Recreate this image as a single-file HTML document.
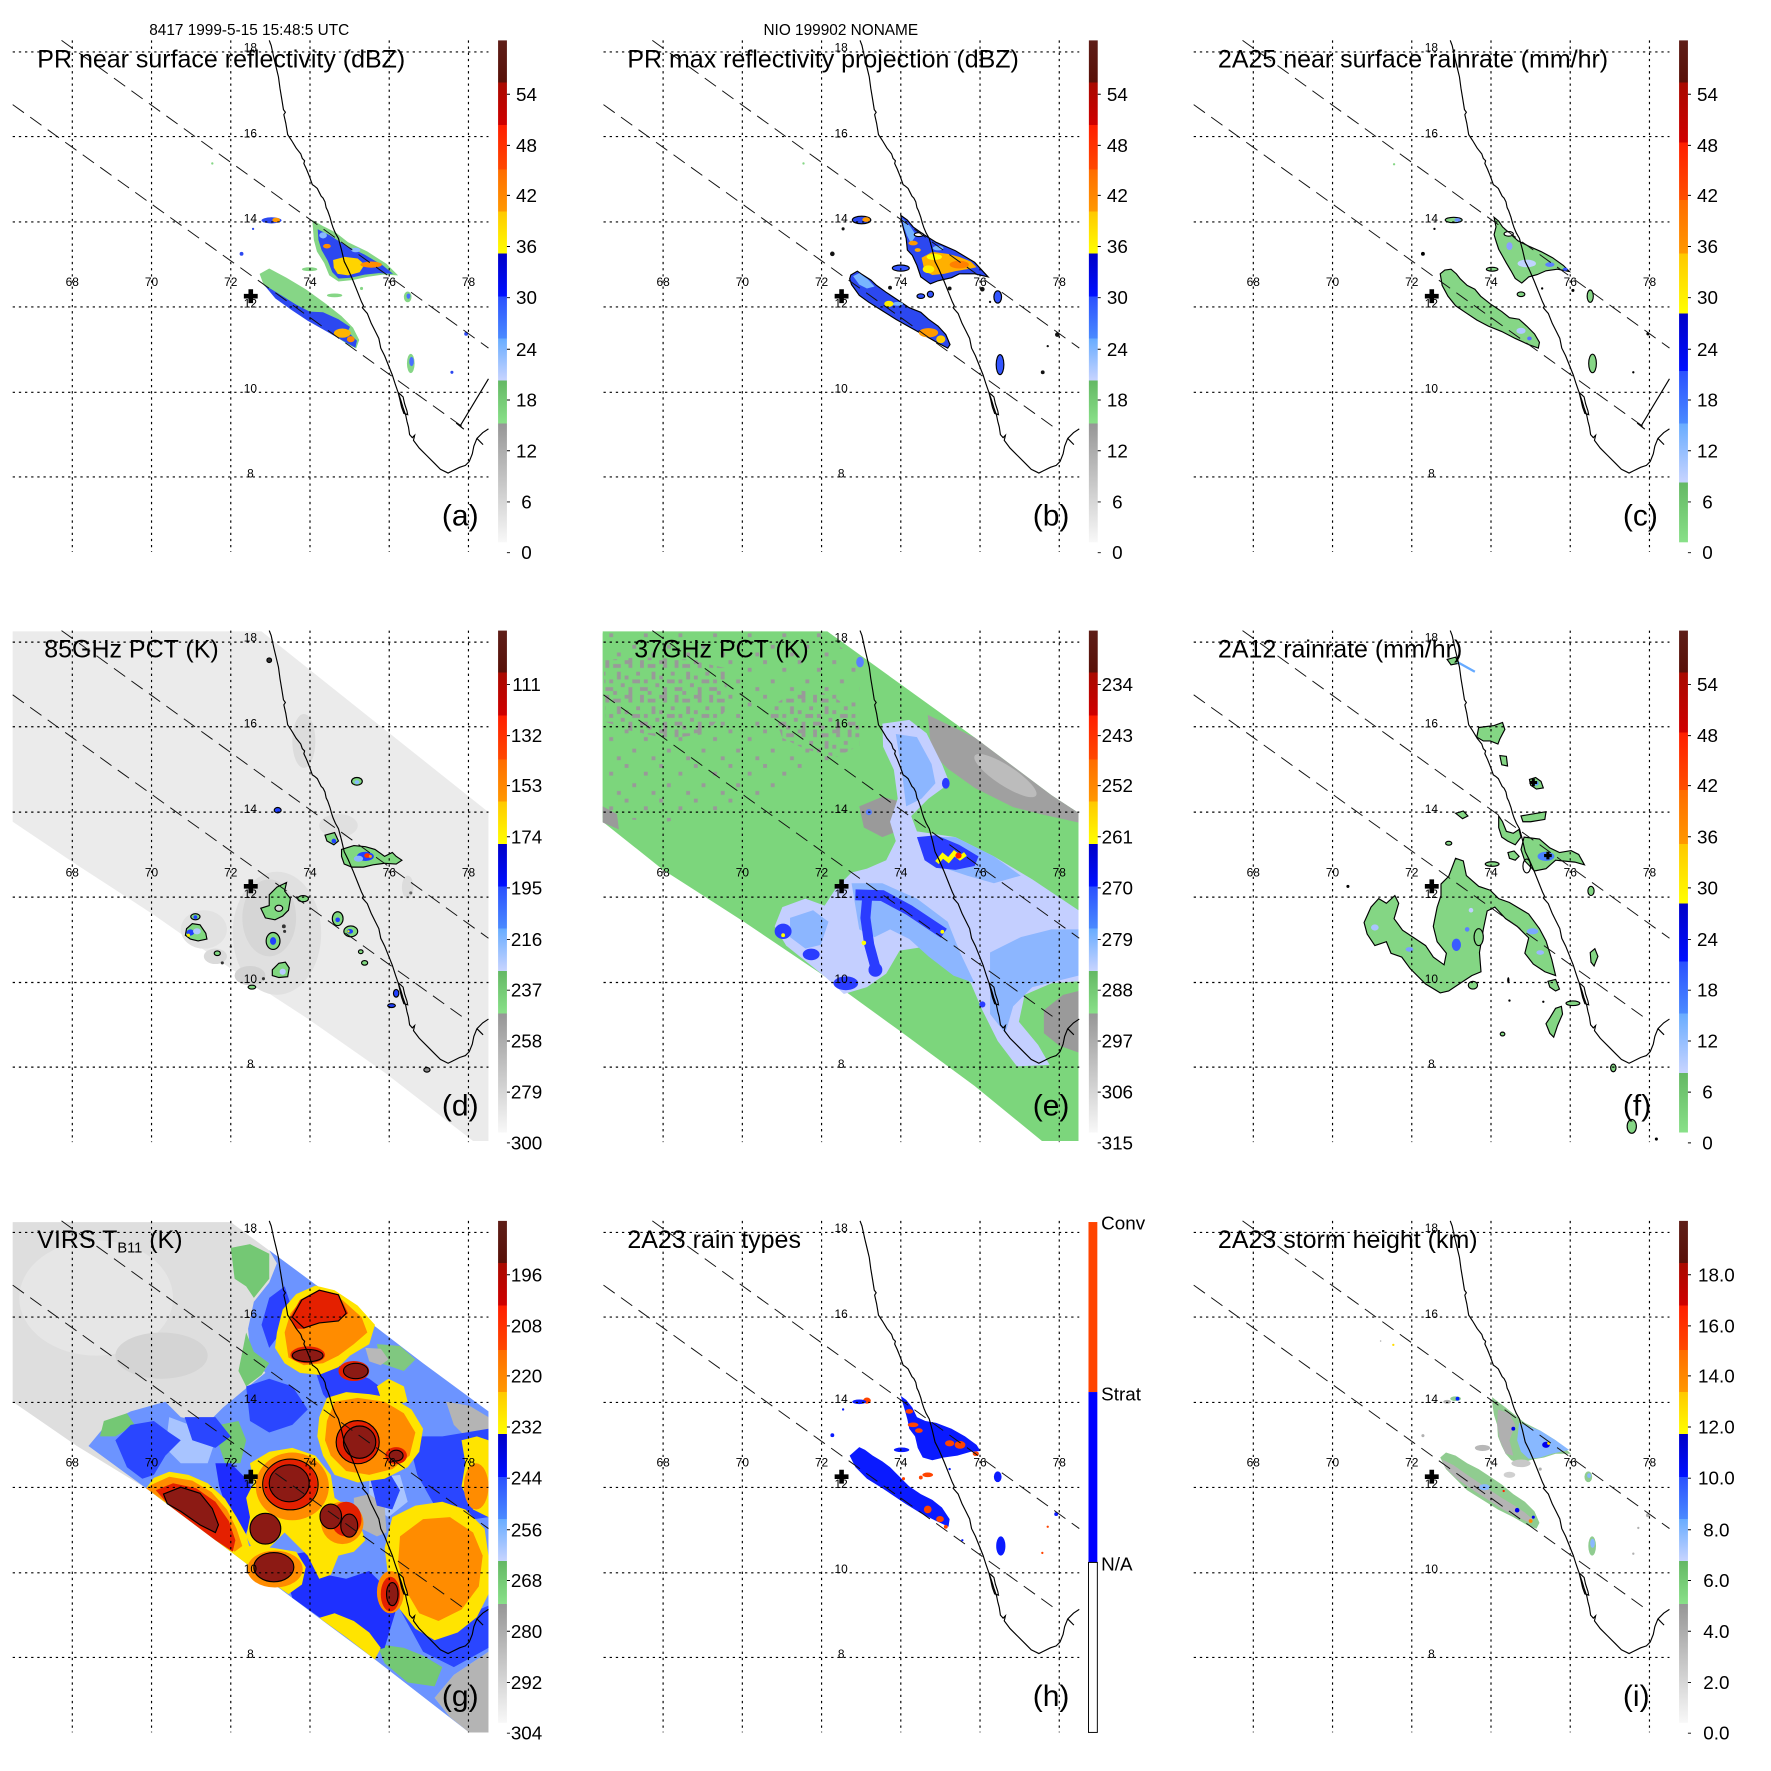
<!DOCTYPE html>
<html><head><meta charset="utf-8">
<style>
html,body{margin:0;padding:0;background:#fff;width:1771px;height:1771px;overflow:hidden}
svg{display:block}
text{font-family:"Liberation Sans",Arial,sans-serif;fill:#000}
.t{font-size:65px}
.h{font-size:40px;text-anchor:middle}
.lo{font-size:31px;text-anchor:middle}
.cb{font-size:49px;text-anchor:middle}
.cbl{font-size:49px}
.pl{font-size:78px}
</style></head><body>
<svg width="1771" height="1771" viewBox="0 0 1771 1771" xmlns="http://www.w3.org/2000/svg">
<defs>
<linearGradient id="gA" gradientUnits="userSpaceOnUse" x1="0" y1="105" x2="0" y2="1410">
<stop offset="0" stop-color="#5e1e18"/><stop offset=".084" stop-color="#581008"/>
<stop offset=".084" stop-color="#a80a00"/><stop offset=".169" stop-color="#d00000"/>
<stop offset=".169" stop-color="#ff1e00"/><stop offset=".257" stop-color="#ff4800"/>
<stop offset=".257" stop-color="#ff6c00"/><stop offset=".341" stop-color="#ff9800"/>
<stop offset=".341" stop-color="#ffc800"/><stop offset=".425" stop-color="#ffff00"/>
<stop offset=".425" stop-color="#0000c8"/><stop offset=".51" stop-color="#0010ff"/>
<stop offset=".51" stop-color="#2a50ff"/><stop offset=".594" stop-color="#4a8aff"/>
<stop offset=".594" stop-color="#68acff"/><stop offset=".678" stop-color="#c8d4ff"/>
<stop offset=".678" stop-color="#64b864"/><stop offset=".763" stop-color="#88e088"/>
<stop offset=".763" stop-color="#969696"/><stop offset="1" stop-color="#f8f8f8"/>
</linearGradient>
<linearGradient id="gC" gradientUnits="userSpaceOnUse" x1="0" y1="105" x2="0" y2="1410">
<stop offset="0" stop-color="#5e1e18"/><stop offset=".084" stop-color="#581008"/>
<stop offset=".084" stop-color="#a80a00"/><stop offset=".203" stop-color="#d00000"/>
<stop offset=".203" stop-color="#ff1e00"/><stop offset=".318" stop-color="#ff5000"/>
<stop offset=".318" stop-color="#ff6c00"/><stop offset=".425" stop-color="#ff9800"/>
<stop offset=".425" stop-color="#ffc800"/><stop offset=".544" stop-color="#ffff00"/>
<stop offset=".544" stop-color="#0000c8"/><stop offset=".659" stop-color="#0010ff"/>
<stop offset=".659" stop-color="#2a50ff"/><stop offset=".763" stop-color="#4a8aff"/>
<stop offset=".763" stop-color="#68acff"/><stop offset=".881" stop-color="#c8d4ff"/>
<stop offset=".881" stop-color="#64b864"/><stop offset="1" stop-color="#88e088"/>
</linearGradient>
<pattern id="mot" width="90" height="90" patternUnits="userSpaceOnUse">
<rect width="90" height="90" fill="#7cd67c"/>
<g fill="#999">
<rect x="0" y="0" width="20" height="10"/><rect x="10" y="10" width="10" height="10"/><rect x="40" y="0" width="10" height="20"/>
<rect x="60" y="10" width="20" height="10"/><rect x="30" y="30" width="10" height="10"/><rect x="70" y="30" width="10" height="20"/>
<rect x="0" y="40" width="10" height="10"/><rect x="20" y="50" width="20" height="10"/><rect x="50" y="50" width="10" height="10"/>
<rect x="80" y="60" width="10" height="10"/><rect x="10" y="70" width="10" height="20"/><rect x="40" y="70" width="20" height="10"/>
<rect x="60" y="80" width="10" height="10"/>
</g>
</pattern>
<pattern id="mot2" width="90" height="90" patternUnits="userSpaceOnUse">
<rect width="90" height="90" fill="#7cd67c"/>
<g fill="#999">
<rect x="0" y="0" width="10" height="10"/><rect x="50" y="20" width="10" height="10"/><rect x="20" y="50" width="10" height="10"/><rect x="70" y="70" width="10" height="10"/>
</g>
</pattern>
<g id="grid" stroke="#000" stroke-width="3" stroke-dasharray="6 10" fill="none">
<path d="M33,135H1270M33,355H1270M33,577H1270M33,798H1270M33,1020H1270M33,1240H1270M188,105V1435M394,105V1435M600,105V1435M806,105V1435M1012,105V1435M1218,105V1435"/>
</g>
<path id="swath" d="M160,105L1270,905M33,272L1210,1115" stroke="#111" stroke-width="2.5" stroke-dasharray="36 20" fill="none"/>
<path id="coast" fill="none" stroke="#000" stroke-width="3" d="M700,105L705,118L712,150L718,175L724,200L728,230L733,260L737,285L742,292L738,298L743,320L748,350L758,365L770,385L782,400L786,412L792,418L790,425L797,440L805,460L812,480L818,484L825,490L830,500L835,510L840,515L845,525L848,540L852,548L858,565L862,580L866,592L872,606L880,620L884,635L888,650L895,680L905,700L918,730L930,760L940,785L945,795L942,800L955,815L965,840L975,860L985,880L990,905L1000,925L1010,950L1020,975L1028,1000L1035,1020L1042,1040L1048,1060L1055,1080L1058,1095L1062,1110L1065,1130L1072,1138L1078,1132L1075,1145L1090,1165L1110,1185L1130,1205L1145,1220L1165,1230L1175,1225L1195,1215L1210,1210L1220,1200L1228,1180L1232,1160L1240,1140L1255,1125L1270,1115M1240,1140L1256,1156M1035,1020L1048,1032L1052,1050L1058,1068L1060,1078L1050,1075L1044,1058L1040,1040Z"/>
<path id="seg" d="M1196,1108L1270,985M1186,1100L1206,1116" stroke="#000" stroke-width="3" fill="none"/>
<path id="cross" d="M646,752h12v12h12v12h-12v12h-12v-12h-12v-12h12z" fill="#000"/>
<path id="ticks" d="M1318,245h8M1318,378h8M1318,508h8M1318,641h8M1318,774h8M1318,908h8M1318,1040h8M1318,1172h8M1318,1305h8M1318,1437h8" stroke="#000" stroke-width="2.5"/>
</defs>

<!-- ============ PANEL A ============ -->
<g transform="translate(0,0) scale(0.384615)">
<g>
<polygon fill="#86d686" points="812,572 840,588 872,604 905,630 955,654 1005,686 1035,716 995,714 955,720 918,728 880,732 856,716 843,684 824,654 816,624 814,598"/>
<polygon fill="#2c48f0" points="826,596 858,612 898,638 948,662 995,690 1022,712 985,710 948,714 912,722 880,724 864,708 852,678 836,650 828,624"/>
<polygon fill="#ffd400" points="866,676 896,668 930,672 948,688 935,708 905,716 878,712 868,696"/>
<ellipse fill="#ff8c00" cx="965" cy="688" rx="28" ry="8"/><ellipse fill="#ff8c00" cx="850" cy="640" rx="10" ry="6"/>
<ellipse fill="#88b8ff" cx="840" cy="612" rx="10" ry="8"/><ellipse fill="#88b8ff" cx="925" cy="650" rx="12" ry="6"/>
<polygon fill="#86d686" points="675,712 700,698 745,722 795,752 845,788 888,822 918,852 934,884 926,906 905,896 868,872 828,848 788,822 748,792 712,764 686,742"/>
<polygon fill="#2c48f0" points="686,740 722,762 770,792 820,818 862,842 900,858 928,886 924,904 888,884 846,860 800,834 758,806 716,776"/>
<polygon fill="#2c48f0" points="800,810 840,812 880,830 910,850 900,870 860,860 820,840"/>
<ellipse fill="#ffb400" cx="890" cy="866" rx="22" ry="12"/><ellipse fill="#ff8800" cx="912" cy="882" rx="10" ry="8"/>
<ellipse fill="#2c48f0" cx="706" cy="573" rx="26" ry="8"/><ellipse fill="#ff9900" cx="718" cy="572" rx="10" ry="6"/>
<ellipse fill="#86d686" cx="1060" cy="772" rx="10" ry="14"/><ellipse fill="#4a70ff" cx="1062" cy="770" rx="5" ry="7"/>
<ellipse fill="#86d686" cx="1068" cy="945" rx="10" ry="25"/><ellipse fill="#4a70ff" cx="1070" cy="940" rx="6" ry="12"/>
<circle fill="#2c48f0" cx="1212" cy="868" r="5"/><circle fill="#2c48f0" cx="1175" cy="968" r="4"/>
<circle fill="#2c48f0" cx="628" cy="660" r="5"/><circle fill="#2c48f0" cx="658" cy="595" r="3"/>
<ellipse fill="#86d686" cx="870" cy="768" rx="20" ry="5"/><ellipse fill="#86d686" cx="805" cy="700" rx="20" ry="5"/>
<circle fill="#86d686" cx="940" cy="750" r="4"/><circle fill="#86d686" cx="552" cy="425" r="3"/>
</g>
<use href="#grid"/><use href="#swath"/><use href="#coast"/><use href="#seg"/><use href="#cross"/>
<rect x="1295" y="105" width="23" height="1305" fill="url(#gA)"/><use href="#ticks"/>
<text class="h" x="648" y="91">8417 1999-5-15 15:48:5 UTC</text>
<text class="t" x="97" y="175">PR near surface reflectivity (dBZ)</text>
<text class="lo" x="188" y="744">68</text><text class="lo" x="394" y="744">70</text><text class="lo" x="600" y="744">72</text><text class="lo" x="806" y="744">74</text><text class="lo" x="1012" y="744">76</text><text class="lo" x="1218" y="744">78</text>
<text class="lo" x="651" y="134">18</text><text class="lo" x="651" y="357">16</text><text class="lo" x="651" y="579">14</text><text class="lo" x="651" y="800">12</text><text class="lo" x="651" y="1021">10</text><text class="lo" x="651" y="1242">8</text>
<text class="cb" x="1369" y="262">54</text><text class="cb" x="1369" y="395">48</text><text class="cb" x="1369" y="525">42</text><text class="cb" x="1369" y="658">36</text><text class="cb" x="1369" y="791">30</text><text class="cb" x="1369" y="925">24</text><text class="cb" x="1369" y="1057">18</text><text class="cb" x="1369" y="1189">12</text><text class="cb" x="1369" y="1322">6</text><text class="cb" x="1369" y="1454">0</text>
<text class="pl" x="1149" y="1366">(a)</text>
</g>

<!-- ============ PANEL B ============ -->
<g transform="translate(590.8,0) scale(0.384615)">
<g transform="translate(-2,0)" stroke="#000" stroke-width="3">
<polygon fill="#2c48f0" points="808,560 825,572 840,590 868,610 900,630 950,652 1000,682 1035,720 1000,712 960,712 940,722 905,730 885,738 860,720 850,690 838,664 825,650 822,620 815,595 810,575"/>
<g stroke="none">
<polygon fill="#70b0ff" points="812,568 832,588 848,612 834,632 824,612 816,590"/>
<polygon fill="#ffb000" points="862,670 890,655 930,660 960,668 990,680 1005,695 980,700 950,705 920,712 890,715 870,705"/>
<ellipse fill="#ffff00" cx="895" cy="668" rx="20" ry="8"/><ellipse fill="#ffee00" cx="880" cy="700" rx="15" ry="10"/>
<ellipse fill="#ff8000" cx="960" cy="688" rx="25" ry="10"/><ellipse fill="#ff9900" cx="840" cy="632" rx="12" ry="6"/><ellipse fill="#ffaa00" cx="852" cy="650" rx="8" ry="5"/>
<ellipse fill="#78b4ff" cx="905" cy="645" rx="14" ry="6"/>
</g>
<ellipse fill="#fff" cx="855" cy="610" rx="12" ry="5"/>
<polygon fill="#2c48f0" points="678,715 695,705 705,712 730,728 745,742 770,760 800,780 830,800 860,812 880,830 905,848 925,870 936,896 930,905 905,892 870,872 830,850 795,830 760,808 725,786 700,768 680,740 675,725"/>
<g stroke="none">
<polygon fill="#78b4ff" points="684,718 700,710 722,726 740,745 720,750 700,740"/>
<ellipse fill="#78b4ff" cx="800" cy="790" rx="14" ry="5"/>
<ellipse fill="#ffee00" cx="777" cy="790" rx="12" ry="8"/>
<ellipse fill="#ff9900" cx="880" cy="865" rx="25" ry="12"/><ellipse fill="#ffcc00" cx="912" cy="882" rx="12" ry="10"/>
</g>
<ellipse fill="#2c48f0" cx="706" cy="572" rx="24" ry="10"/>
<ellipse fill="#ff9900" stroke="none" cx="718" cy="571" rx="10" ry="6"/>
<ellipse fill="#3355ff" cx="808" cy="697" rx="22" ry="8"/>
<ellipse fill="#3355ff" cx="860" cy="770" rx="10" ry="6"/><ellipse fill="#3355ff" cx="885" cy="765" rx="8" ry="8"/>
<ellipse fill="#3355ff" cx="1060" cy="772" rx="10" ry="16"/><ellipse fill="#3355ff" cx="1066" cy="948" rx="10" ry="26"/>
<g stroke="none" fill="#111">
<circle cx="780" cy="748" r="5"/><circle cx="935" cy="750" r="5"/><circle cx="1215" cy="870" r="6"/><circle cx="1190" cy="900" r="3"/><circle cx="1177" cy="968" r="5"/><circle cx="630" cy="660" r="6"/><circle cx="658" cy="595" r="4"/><circle cx="1020" cy="752" r="6"/><circle cx="1040" cy="785" r="3"/>
<circle fill="#86d686" cx="555" cy="425" r="3"/>
</g>
</g>
<use href="#grid"/><use href="#swath"/><use href="#coast"/><use href="#cross"/>
<rect x="1295" y="105" width="23" height="1305" fill="url(#gA)"/><use href="#ticks"/>
<text class="h" x="650" y="91">NIO 199902 NONAME</text>
<text class="t" x="95" y="175">PR max reflectivity projection (dBZ)</text>
<text class="lo" x="188" y="744">68</text><text class="lo" x="394" y="744">70</text><text class="lo" x="600" y="744">72</text><text class="lo" x="806" y="744">74</text><text class="lo" x="1012" y="744">76</text><text class="lo" x="1218" y="744">78</text>
<text class="lo" x="651" y="134">18</text><text class="lo" x="651" y="357">16</text><text class="lo" x="651" y="579">14</text><text class="lo" x="651" y="800">12</text><text class="lo" x="651" y="1021">10</text><text class="lo" x="651" y="1242">8</text>
<text class="cb" x="1369" y="262">54</text><text class="cb" x="1369" y="395">48</text><text class="cb" x="1369" y="525">42</text><text class="cb" x="1369" y="658">36</text><text class="cb" x="1369" y="791">30</text><text class="cb" x="1369" y="925">24</text><text class="cb" x="1369" y="1057">18</text><text class="cb" x="1369" y="1189">12</text><text class="cb" x="1369" y="1322">6</text><text class="cb" x="1369" y="1454">0</text>
<text class="pl" x="1149" y="1366">(b)</text>
</g>

<!-- ============ PANEL C ============ -->
<g transform="translate(1181,0) scale(0.384615)">
<g transform="translate(-26,0)" stroke="#000" stroke-width="3" fill="#86d686">
<polygon points="840,565 852,575 862,590 880,606 902,626 930,640 962,654 992,670 1020,690 1036,706 1005,700 975,704 952,714 930,720 912,736 895,724 884,704 872,684 862,666 852,648 846,630 840,610 845,590"/>
<ellipse fill="#fff" cx="878" cy="608" rx="12" ry="6"/>
<g stroke="none">
<ellipse fill="#c0d4ff" cx="925" cy="685" rx="24" ry="10"/><ellipse fill="#8aa0ff" cx="880" cy="640" rx="8" ry="10"/><ellipse fill="#5a80ff" cx="985" cy="688" rx="12" ry="6"/><ellipse fill="#3355ff" cx="1025" cy="700" rx="6" ry="4"/>
</g>
<polygon points="700,712 712,702 728,700 742,712 752,725 770,742 790,752 805,770 830,790 860,810 880,826 905,830 925,848 945,868 958,890 955,905 930,896 895,880 860,862 825,848 795,832 765,812 740,795 720,770 705,742"/>
<g stroke="none"><ellipse fill="#b0c8ff" cx="910" cy="860" rx="12" ry="8"/><ellipse fill="#5a70ff" cx="932" cy="880" rx="6" ry="5"/></g>
<ellipse cx="735" cy="572" rx="22" ry="7"/><ellipse fill="#6a90ff" stroke="none" cx="745" cy="572" rx="8" ry="5"/>
<ellipse cx="835" cy="700" rx="15" ry="5"/><ellipse cx="1090" cy="770" rx="8" ry="16"/><ellipse cx="1096" cy="945" rx="10" ry="24"/><ellipse cx="910" cy="765" rx="10" ry="6"/>
<g stroke="none" fill="#000"><circle cx="655" cy="660" r="5"/><circle cx="1045" cy="755" r="4"/><circle cx="965" cy="750" r="3"/><circle cx="1240" cy="868" r="4"/><circle cx="1202" cy="968" r="3"/><circle cx="685" cy="595" r="3"/><circle fill="#86d686" cx="580" cy="427" r="3"/></g>
</g>
<use href="#grid"/><use href="#swath"/><use href="#coast"/><use href="#seg"/><use href="#cross"/>
<rect x="1295" y="105" width="23" height="1305" fill="url(#gC)"/><use href="#ticks"/>
<text class="t" x="96" y="175">2A25 near surface rainrate (mm/hr)</text>
<text class="lo" x="188" y="744">68</text><text class="lo" x="394" y="744">70</text><text class="lo" x="600" y="744">72</text><text class="lo" x="806" y="744">74</text><text class="lo" x="1012" y="744">76</text><text class="lo" x="1218" y="744">78</text>
<text class="lo" x="651" y="134">18</text><text class="lo" x="651" y="357">16</text><text class="lo" x="651" y="579">14</text><text class="lo" x="651" y="800">12</text><text class="lo" x="651" y="1021">10</text><text class="lo" x="651" y="1242">8</text>
<text class="cb" x="1369" y="262">54</text><text class="cb" x="1369" y="395">48</text><text class="cb" x="1369" y="525">42</text><text class="cb" x="1369" y="658">36</text><text class="cb" x="1369" y="791">30</text><text class="cb" x="1369" y="925">24</text><text class="cb" x="1369" y="1057">18</text><text class="cb" x="1369" y="1189">12</text><text class="cb" x="1369" y="1322">6</text><text class="cb" x="1369" y="1454">0</text>
<text class="pl" x="1149" y="1366">(c)</text>
</g>

<!-- ============ PANEL D ============ -->
<g transform="translate(0,590.2) scale(0.384615)">
<g transform="translate(0,2)">
<polygon fill="#ebebeb" points="33,105 680,105 1270,575 1270,1430 1230,1430 1000,1252 800,1112 600,982 400,842 200,712 33,600"/>
<ellipse fill="#e0e0e0" cx="720" cy="890" rx="115" ry="160"/>
<ellipse fill="#d6d6d6" cx="700" cy="850" rx="70" ry="100"/>
<ellipse fill="#dcdcdc" cx="790" cy="390" rx="30" ry="70"/>
<ellipse fill="#e0e0e0" cx="880" cy="610" rx="50" ry="30"/>
<ellipse fill="#d2d2d2" cx="650" cy="1000" rx="40" ry="25"/>
<ellipse fill="#dcdcdc" cx="1060" cy="770" rx="15" ry="30"/>
<ellipse fill="#dadada" cx="560" cy="950" rx="30" ry="20"/>
<ellipse fill="#e2e2e2" cx="530" cy="880" rx="60" ry="50"/>
<g stroke="#000" stroke-width="3" fill="#80d880">
<circle fill="#333" cx="700" cy="180" r="6"/>
<ellipse cx="928" cy="495" rx="14" ry="10"/>
<ellipse fill="#2040ff" cx="722" cy="570" rx="9" ry="7"/>
<polygon points="845,635 870,628 880,650 868,660 850,650"/>
<polygon points="888,672 920,662 950,665 975,672 1000,690 1020,680 1030,690 1045,700 1030,710 1000,708 970,712 945,718 915,718 895,710 888,690"/>
<polygon points="700,790 720,770 745,758 740,780 755,800 750,830 735,845 715,855 690,850 678,825 700,818"/>
<ellipse fill="#d6d6d6" cx="725" cy="825" rx="10" ry="8"/>
<ellipse cx="788" cy="800" rx="14" ry="8"/>
<polygon points="485,878 500,865 520,868 535,890 538,905 515,910 495,905 482,895"/>
<ellipse cx="508" cy="847" rx="12" ry="8"/>
<ellipse cx="710" cy="910" rx="18" ry="22"/>
<ellipse cx="878" cy="852" rx="14" ry="18"/>
<ellipse cx="912" cy="885" rx="18" ry="14"/>
<polygon points="708,985 725,968 742,965 752,980 748,1003 725,1005 708,1000"/>
<ellipse cx="565" cy="942" rx="8" ry="6"/>
<ellipse cx="938" cy="938" rx="6" ry="5"/><ellipse cx="948" cy="967" rx="8" ry="6"/>
<ellipse fill="#2040ff" cx="1030" cy="1046" rx="7" ry="10"/>
<ellipse fill="#2040ff" cx="1018" cy="1078" rx="10" ry="5"/>
<ellipse fill="#888" cx="1110" cy="1245" rx="8" ry="6"/>
<ellipse cx="655" cy="1030" rx="10" ry="5"/>
</g>
<g>
<ellipse fill="#88bbff" cx="928" cy="497" rx="6" ry="5"/>
<circle fill="#2040ff" cx="868" cy="650" r="6"/>
<ellipse fill="#2040ff" cx="950" cy="690" rx="22" ry="12"/><ellipse fill="#8ab4ff" cx="932" cy="696" rx="12" ry="8"/>
<ellipse fill="#ff3000" cx="955" cy="688" rx="8" ry="6"/><circle fill="#ff9900" cx="963" cy="690" r="4"/>
<ellipse fill="#2040ff" cx="495" cy="888" rx="10" ry="8"/><ellipse fill="#b0c8ff" cx="512" cy="885" rx="10" ry="8"/><circle fill="#ffee00" cx="490" cy="895" r="4"/>
<circle fill="#2040ff" cx="508" cy="848" r="5"/>
<ellipse fill="#2040ff" cx="710" cy="910" rx="8" ry="10"/>
<circle fill="#2040ff" cx="878" cy="855" r="6"/>
<ellipse fill="#2040ff" cx="910" cy="885" rx="8" ry="6"/><circle fill="#ffee00" cx="906" cy="885" r="3"/>
<circle fill="#b8ccff" cx="735" cy="990" r="8"/>
<circle fill="#333" cx="738" cy="872" r="5"/><circle fill="#333" cx="740" cy="885" r="4"/>
<circle fill="#333" cx="578" cy="967" r="4"/><circle fill="#333" cx="600" cy="925" r="3"/><circle fill="#333" cx="685" cy="1008" r="4"/><circle fill="#666" cx="1068" cy="785" r="4"/>
</g>
</g>
<use href="#grid"/><use href="#swath"/><use href="#coast"/><use href="#cross"/>
<rect x="1295" y="105" width="23" height="1305" fill="url(#gA)"/><use href="#ticks"/>
<text class="t" x="115" y="175">85GHz PCT (K)</text>
<text class="lo" x="188" y="744">68</text><text class="lo" x="394" y="744">70</text><text class="lo" x="600" y="744">72</text><text class="lo" x="806" y="744">74</text><text class="lo" x="1012" y="744">76</text><text class="lo" x="1218" y="744">78</text>
<text class="lo" x="651" y="134">18</text><text class="lo" x="651" y="357">16</text><text class="lo" x="651" y="579">14</text><text class="lo" x="651" y="800">12</text><text class="lo" x="651" y="1021">10</text><text class="lo" x="651" y="1242">8</text>
<text class="cb" x="1369" y="262">111</text><text class="cb" x="1369" y="395">132</text><text class="cb" x="1369" y="525">153</text><text class="cb" x="1369" y="658">174</text><text class="cb" x="1369" y="791">195</text><text class="cb" x="1369" y="925">216</text><text class="cb" x="1369" y="1057">237</text><text class="cb" x="1369" y="1189">258</text><text class="cb" x="1369" y="1322">279</text><text class="cb" x="1369" y="1454">300</text>
<text class="pl" x="1149" y="1366">(d)</text>
</g>

<!-- ============ PANEL E ============ -->
<g transform="translate(590.8,590.2) scale(0.384615)">
<g transform="translate(-2,2)">
<polygon fill="#7cd67c" points="33,105 617,105 800,237 1000,381 1200,531 1270,577 1270,1430 1175,1430 1000,1287 800,1140 600,995 400,860 190,725 33,600"/>
<polygon fill="url(#mot2)" points="33,110 600,110 700,180 700,420 600,460 400,560 200,600 33,590"/>
<polygon fill="url(#mot)" points="36,180 130,172 250,178 350,200 362,300 300,372 200,384 100,362 40,340"/>
<polygon fill="url(#mot)" points="470,300 540,258 620,268 700,318 700,402 640,432 560,412 500,382"/>
<polygon fill="#9a9a9a" points="700,560 760,535 822,552 812,620 760,640 712,615"/>
<polygon fill="#a0a0a0" points="878,322 1000,381 1200,531 1270,577 1270,602 1180,582 1100,562 1000,512 930,462 888,420"/>
<ellipse fill="#bcbcbc" cx="1080" cy="480" rx="95" ry="26" transform="rotate(33 1080 480)"/>
<polygon fill="#9a9a9a" points="1180,1090 1230,1050 1270,1040 1270,1200 1220,1182 1180,1150"/>
<polygon fill="#9a9a9a" points="33,560 70,580 75,620 33,602"/>
<polygon fill="#c4cfff" points="760,345 830,335 875,370 915,450 935,500 880,540 835,585 850,625 950,640 1050,690 1150,750 1270,830 1270,1015 1200,1020 1130,1050 1115,1120 1165,1180 1195,1232 1110,1236 1060,1170 1020,1090 990,1020 945,965 870,925 805,935 770,995 720,1030 660,1048 610,1002 560,962 510,922 480,872 500,822 560,800 610,818 640,772 680,732 720,722 770,700 795,650 780,600 800,540 790,465 762,405"/>
<polygon fill="#8cb6ff" points="795,372 850,380 888,450 898,500 862,540 822,560 812,480"/>
<polygon fill="#8cb6ff" points="680,760 760,760 850,800 930,860 962,940 1000,1020 945,1000 880,950 830,905 780,880 740,900 700,880"/>
<polygon fill="#8cb6ff" points="1040,940 1120,900 1200,880 1270,880 1270,1000 1150,1030 1100,1080 1080,1150 1040,1100"/>
<polygon fill="#8cb6ff" points="880,640 950,640 1050,690 1120,740 1050,760 980,740 920,720"/>
<polygon fill="#8cb6ff" points="520,850 580,830 620,860 600,920 560,930 520,900"/>
<polygon fill="#2a3cff" points="850,640 900,635 960,660 1010,690 1000,715 950,725 900,720 870,700"/>
<polyline fill="none" stroke="#2a3cff" stroke-width="28" points="690,790 760,792 830,830 890,870 920,890"/>
<polyline fill="none" stroke="#2a3cff" stroke-width="26" points="722,782 716,850 726,920 745,990"/>
<ellipse fill="#2a3cff" cx="502" cy="885" rx="22" ry="20"/>
<ellipse fill="#2a3cff" cx="575" cy="945" rx="22" ry="15"/>
<ellipse fill="#2a3cff" cx="665" cy="1020" rx="32" ry="18"/>
<ellipse fill="#2a3cff" cx="742" cy="985" rx="18" ry="18"/>
<ellipse fill="#2a3cff" cx="925" cy="500" rx="10" ry="14"/>
<ellipse fill="#2a3cff" cx="1020" cy="1075" rx="8" ry="8"/>
<ellipse fill="#5a80ff" cx="702" cy="185" rx="10" ry="14"/>
<circle fill="#5a80ff" cx="725" cy="575" r="8"/>
<polyline fill="none" stroke="#ffff00" stroke-width="12" points="902,706 917,688 932,700 947,682 962,694 976,684"/>
<circle fill="#ff2000" cx="958" cy="688" r="8"/>
<circle fill="#ffff00" cx="502" cy="895" r="5"/><circle fill="#ffff00" cx="712" cy="915" r="6"/><circle fill="#ffff00" cx="916" cy="886" r="5"/>
</g>
<use href="#grid"/><use href="#swath"/><use href="#coast"/><use href="#cross"/>
<rect x="1295" y="105" width="23" height="1305" fill="url(#gA)"/><use href="#ticks"/>
<text class="t" x="113" y="175">37GHz PCT (K)</text>
<text class="lo" x="188" y="744">68</text><text class="lo" x="394" y="744">70</text><text class="lo" x="600" y="744">72</text><text class="lo" x="806" y="744">74</text><text class="lo" x="1012" y="744">76</text><text class="lo" x="1218" y="744">78</text>
<text class="lo" x="651" y="134">18</text><text class="lo" x="651" y="357">16</text><text class="lo" x="651" y="579">14</text><text class="lo" x="651" y="800">12</text><text class="lo" x="651" y="1021">10</text><text class="lo" x="651" y="1242">8</text>
<text class="cb" x="1369" y="262">234</text><text class="cb" x="1369" y="395">243</text><text class="cb" x="1369" y="525">252</text><text class="cb" x="1369" y="658">261</text><text class="cb" x="1369" y="791">270</text><text class="cb" x="1369" y="925">279</text><text class="cb" x="1369" y="1057">288</text><text class="cb" x="1369" y="1189">297</text><text class="cb" x="1369" y="1322">306</text><text class="cb" x="1369" y="1454">315</text>
<text class="pl" x="1149" y="1366">(e)</text>
</g>

<!-- ============ PANEL F ============ -->
<g transform="translate(1181,590.2) scale(0.384615)">
<g transform="translate(-26,2)" stroke="#000" stroke-width="3" fill="#84d684">
<polygon points="740,695 760,702 768,740 800,768 830,778 852,800 880,810 930,840 958,878 975,910 990,958 1000,1000 972,990 942,970 920,942 930,902 900,872 870,852 842,822 822,832 812,880 802,940 806,990 782,1000 752,1020 722,1040 700,1045 662,1022 642,1002 622,982 600,952 572,942 560,912 530,922 510,892 502,862 520,822 540,800 560,812 582,792 592,812 580,852 602,882 632,902 662,922 682,952 710,972 716,942 692,912 682,872 692,822 702,792 702,762 722,742"/>
<ellipse cx="800" cy="900" rx="12" ry="22"/>
<g stroke="none">
<ellipse fill="#3a5cff" cx="742" cy="920" rx="12" ry="16"/><circle fill="#5a80ff" cx="770" cy="880" r="6"/><ellipse fill="#7aa8ff" cx="940" cy="885" rx="15" ry="8"/><ellipse fill="#9ab8ff" cx="960" cy="940" rx="10" ry="6"/><ellipse fill="#aac4ff" cx="530" cy="875" rx="10" ry="8"/><ellipse fill="#7aa0ff" cx="620" cy="932" rx="10" ry="6"/><circle fill="#c0d0ff" cx="780" cy="830" r="6"/>
</g>
<polygon points="918,640 958,645 985,668 1010,680 1040,675 1060,685 1075,712 1050,705 1000,700 975,722 945,728 920,702 910,672"/>
<ellipse fill="#4a80ff" stroke="none" cx="975" cy="690" rx="22" ry="12"/>
<polygon points="852,585 862,600 872,625 890,630 905,620 910,640 895,660 875,650 860,640 852,615"/>
<polygon points="876,680 892,676 905,690 895,700 880,695"/>
<polygon points="910,585 950,578 975,574 972,594 935,600 915,600"/>
<polygon points="800,355 840,350 862,342 868,360 855,385 850,398 830,390 812,390 795,380"/>
<polygon points="855,428 872,430 875,455 860,452"/>
<polygon points="932,490 948,485 962,495 968,512 950,515 935,505"/>
<circle fill="#5aa0ff" stroke="none" cx="950" cy="500" r="6"/>
<polygon points="740,578 760,572 772,585 758,592"/>
<ellipse cx="722" cy="656" rx="8" ry="5"/><ellipse cx="835" cy="710" rx="18" ry="6"/><ellipse cx="1092" cy="780" rx="8" ry="12"/>
<polygon points="1090,940 1102,930 1110,950 1100,975 1092,965"/>
<polygon points="980,1015 1000,1010 1010,1035 1000,1040 985,1030"/>
<ellipse cx="1045" cy="1072" rx="18" ry="6"/>
<polygon points="1000,1085 1015,1080 1018,1100 1005,1130 995,1160 985,1150 975,1125 985,1110"/>
<ellipse cx="862" cy="1152" rx="6" ry="5"/><ellipse cx="1150" cy="1240" rx="7" ry="10"/><ellipse cx="1198" cy="1392" rx="12" ry="18"/><ellipse cx="785" cy="1025" rx="12" ry="10"/>
<ellipse fill="none" cx="925" cy="715" rx="10" ry="18"/>
<polygon points="718,178 740,172 748,188 728,192"/>
<line x1="745" y1="185" x2="790" y2="210" stroke="#66aaff" stroke-width="6"/>
<g stroke="none" fill="#000"><circle cx="1262" cy="1425" r="4"/><circle cx="460" cy="768" r="4"/><circle cx="880" cy="1065" r="3"/><circle cx="968" cy="1068" r="3"/><ellipse cx="877" cy="1012" rx="3" ry="8"/></g>
<path stroke="none" fill="#000" d="M976,678h8v6h6v8h-6v6h-8v-6h-6v-8h6z M938,488h8v6h6v8h-6v6h-8v-6h-6v-8h6z"/>
</g>
<use href="#grid"/><use href="#swath"/><use href="#coast"/><use href="#cross"/>
<rect x="1295" y="105" width="23" height="1305" fill="url(#gC)"/><use href="#ticks"/>
<text class="t" x="96" y="175">2A12 rainrate (mm/hr)</text>
<text class="lo" x="188" y="744">68</text><text class="lo" x="394" y="744">70</text><text class="lo" x="600" y="744">72</text><text class="lo" x="806" y="744">74</text><text class="lo" x="1012" y="744">76</text><text class="lo" x="1218" y="744">78</text>
<text class="lo" x="651" y="134">18</text><text class="lo" x="651" y="357">16</text><text class="lo" x="651" y="579">14</text><text class="lo" x="651" y="800">12</text><text class="lo" x="651" y="1021">10</text><text class="lo" x="651" y="1242">8</text>
<text class="cb" x="1369" y="262">54</text><text class="cb" x="1369" y="395">48</text><text class="cb" x="1369" y="525">42</text><text class="cb" x="1369" y="658">36</text><text class="cb" x="1369" y="791">30</text><text class="cb" x="1369" y="925">24</text><text class="cb" x="1369" y="1057">18</text><text class="cb" x="1369" y="1189">12</text><text class="cb" x="1369" y="1322">6</text><text class="cb" x="1369" y="1454">0</text>
<text class="pl" x="1149" y="1366">(f)</text>
</g>

<!-- ============ PANEL G ============ -->
<g transform="translate(0,1180.5) scale(0.384615)">
<g transform="translate(0,-24.7)">
<polygon fill="#dedede" points="33,133 600,133 820,295 970,400 1100,500 1270,625 1270,1460 1220,1460 975,1270 800,1140 600,990 380,825 200,715 33,600"/>
<ellipse fill="#e6e6e6" cx="250" cy="330" rx="200" ry="150"/>
<ellipse fill="#d4d4d4" cx="420" cy="480" rx="120" ry="60"/>
<polygon fill="#b4b4b4" points="1270,1250 1180,1310 1130,1370 1170,1420 1220,1460 1270,1460"/>
<polygon fill="#6c94ff" points="230,715 280,655 340,625 430,600 470,640 540,655 580,615 640,565 690,525 650,470 645,410 660,340 700,290 720,240 700,206 820,295 970,400 1100,500 1270,625 1270,1250 1180,1310 1130,1370 1170,1420 1220,1460 975,1270 800,1140 600,990 380,825"/>
<polygon fill="#a8c4ff" points="440,640 520,670 560,700 540,760 470,760 430,720"/>
<polygon fill="#a8c4ff" points="960,800 1040,790 1060,860 1010,900 960,870"/>
<polygon fill="#a8c4ff" points="880,1080 940,1070 980,1120 940,1160 890,1140"/>
<polygon fill="#74c874" points="600,200 650,190 700,215 700,280 660,330 640,300 610,280"/>
<polygon fill="#74c874" points="640,420 660,470 700,500 680,530 640,560 620,520 630,470"/>
<polygon fill="#74c874" points="570,660 620,650 640,700 625,760 585,760 565,700"/>
<polygon fill="#80c880" points="980,450 1040,455 1080,490 1050,520 990,500"/>
<polygon fill="#74c874" points="980,1230 1050,1240 1100,1260 1150,1290 1130,1340 1060,1330 1000,1280"/>
<polygon fill="#74c874" points="270,650 330,630 350,660 300,690 260,690"/>
<polygon fill="#b8b8b8" points="950,460 990,462 1010,490 990,505 960,495"/>
<polygon fill="#b4b4b4" points="920,850 960,840 1000,870 1005,940 980,950 940,930 920,890"/>
<polygon fill="#b4b4b4" points="1160,600 1220,610 1270,640 1270,700 1220,700 1180,660"/>
<polygon fill="#2a46ff" points="300,700 340,660 400,650 440,680 470,700 430,740 400,790 370,800 330,770"/>
<polygon fill="#1e2cff" points="560,760 600,760 640,800 670,850 660,900 630,960 600,970 580,930 590,880 570,820"/>
<polygon fill="#1e30ff" points="740,1000 800,990 850,1050 900,1060 960,1040 1000,1080 1030,1140 1000,1240 960,1250 900,1200 830,1160 760,1110 745,1060"/>
<polygon fill="#2a40ff" points="820,520 880,505 960,540 1000,570 985,620 930,640 870,620 840,580"/>
<polygon fill="#2a46ff" points="1060,690 1150,690 1270,670 1270,900 1200,910 1130,870 1085,790"/>
<polygon fill="#2a46ff" points="1040,1140 1120,1180 1200,1160 1270,1130 1270,1240 1180,1290 1100,1250"/>
<polygon fill="#2a46ff" points="640,560 700,540 760,560 800,620 760,660 700,680 650,650"/>
<polygon fill="#2a40ff" points="700,330 740,300 760,360 730,420 700,460 680,400"/>
<polygon fill="#2a46ff" points="480,640 560,640 600,690 560,720 500,700"/>
<polygon fill="#2a46ff" points="960,790 1010,780 1040,830 1020,880 980,870"/>
<polygon fill="#ffe400" points="380,825 400,798 440,782 490,790 540,812 585,852 615,900 640,945 650,985 615,995 600,990"/>
<polygon fill="#ffe400" points="650,760 700,730 760,720 820,740 860,790 870,850 900,870 930,900 950,960 920,990 880,1000 860,1050 830,1060 800,1000 780,980 760,960 740,940 700,980 660,990 640,950 650,900 640,850 660,810"/>
<polygon fill="#ffe400" points="600,990 650,975 710,980 770,990 795,1030 785,1075 750,1100 700,1065 650,1028"/>
<polygon fill="#ffe400" points="830,1162 870,1150 920,1170 960,1200 990,1240 975,1270 900,1212"/>
<polygon fill="#ffe400" points="1020,900 1080,870 1150,860 1210,880 1260,930 1270,1000 1270,1100 1240,1160 1190,1200 1130,1220 1080,1190 1040,1140 1010,1060 1000,980"/>
<polygon fill="#ffe400" points="830,640 850,590 900,575 960,580 1020,590 1070,620 1100,670 1090,730 1060,770 1000,800 930,810 870,790 840,740 825,690"/>
<polygon fill="#ffe400" points="720,420 735,360 770,320 820,298 870,310 930,350 975,400 960,450 910,480 880,510 830,530 780,525 740,500 715,460"/>
<polygon fill="#ffe400" points="980,560 1010,540 1050,560 1060,600 1020,610 990,590"/>
<polygon fill="#ffe400" points="1200,700 1240,690 1270,700 1270,900 1230,880 1200,820 1210,760"/>
<polygon fill="#ff8c00" points="740,420 755,370 790,330 840,310 890,335 940,380 955,420 920,450 880,480 840,500 790,505 750,485"/>
<polygon fill="#ff8c00" points="850,650 870,600 930,590 1000,600 1050,630 1080,680 1065,740 1020,775 960,790 900,780 860,740 845,700"/>
<polygon fill="#ff8c00" points="1040,950 1100,905 1170,900 1230,940 1255,1000 1245,1080 1200,1140 1140,1170 1090,1150 1055,1090 1035,1020"/>
<ellipse fill="#ff8c00" cx="760" cy="820" rx="95" ry="88"/>
<ellipse fill="#ff8c00" cx="715" cy="1035" rx="72" ry="48"/>
<polygon fill="#ff8c00" points="395,815 440,795 500,805 550,835 590,880 615,930 630,975 610,990 380,825"/>
<ellipse fill="#ff8c00" cx="890" cy="915" rx="55" ry="55"/>
<ellipse fill="#ff8c00" cx="1015" cy="1095" rx="35" ry="55"/>
<ellipse fill="#ff8c00" cx="1238" cy="820" rx="32" ry="60"/>
<g fill="#e42000">
<polygon points="755,380 780,335 830,308 880,320 905,370 880,390 830,395 790,410 770,410"/>
<ellipse cx="800" cy="478" rx="45" ry="22"/>
<polygon points="405,830 450,812 510,825 560,860 595,910 612,960 605,990 560,960 500,915 440,870"/>
<ellipse cx="755" cy="815" rx="70" ry="65"/>
<ellipse cx="1015" cy="1100" rx="25" ry="45"/>
<ellipse cx="900" cy="905" rx="40" ry="45"/>
<ellipse cx="930" cy="705" rx="55" ry="55"/>
<ellipse cx="1030" cy="740" rx="28" ry="22"/>
<ellipse cx="920" cy="520" rx="40" ry="26"/>
</g>
<g fill="#8c1a14" stroke="#000" stroke-width="3">
<polygon points="425,840 470,822 520,838 552,878 568,920 560,940 520,920 470,885 435,865"/>
<circle cx="690" cy="930" r="40"/>
<ellipse cx="712" cy="1030" rx="52" ry="38"/>
<ellipse cx="752" cy="812" rx="52" ry="48"/>
<ellipse cx="860" cy="898" rx="28" ry="32"/>
<ellipse cx="908" cy="922" rx="22" ry="30"/>
<ellipse cx="925" cy="520" rx="32" ry="20"/>
<ellipse cx="935" cy="705" rx="42" ry="42"/>
<ellipse cx="1030" cy="740" rx="18" ry="14"/>
<ellipse cx="800" cy="480" rx="40" ry="16"/>
<ellipse cx="1020" cy="1100" rx="15" ry="30"/>
</g>
<g fill="none" stroke="#000" stroke-width="3">
<polygon points="760,380 785,335 830,310 880,322 900,370 880,390 830,395 790,408"/>
<ellipse cx="755" cy="815" rx="72" ry="66"/>
<ellipse cx="930" cy="705" rx="56" ry="56"/>
</g>
</g>
<use href="#grid"/><use href="#swath"/><use href="#coast"/><use href="#cross"/>
<rect x="1295" y="105" width="23" height="1305" fill="url(#gA)"/><use href="#ticks"/>
<text class="t" x="97" y="175">VIRS T<tspan font-size="38" dy="12">B11</tspan><tspan dy="-12"> (K)</tspan></text>
<text class="lo" x="188" y="744">68</text><text class="lo" x="394" y="744">70</text><text class="lo" x="600" y="744">72</text><text class="lo" x="806" y="744">74</text><text class="lo" x="1012" y="744">76</text><text class="lo" x="1218" y="744">78</text>
<text class="lo" x="651" y="134">18</text><text class="lo" x="651" y="357">16</text><text class="lo" x="651" y="579">14</text><text class="lo" x="651" y="800">12</text><text class="lo" x="651" y="1021">10</text><text class="lo" x="651" y="1242">8</text>
<text class="cb" x="1369" y="262">196</text><text class="cb" x="1369" y="395">208</text><text class="cb" x="1369" y="525">220</text><text class="cb" x="1369" y="658">232</text><text class="cb" x="1369" y="791">244</text><text class="cb" x="1369" y="925">256</text><text class="cb" x="1369" y="1057">268</text><text class="cb" x="1369" y="1189">280</text><text class="cb" x="1369" y="1322">292</text><text class="cb" x="1369" y="1454">304</text>
<text class="pl" x="1149" y="1366">(g)</text>
</g>

<!-- ============ PANEL H ============ -->
<g transform="translate(590.8,1180.5) scale(0.384615)">
<g transform="translate(-2,-24.7)">
<polygon fill="#0a1aff" points="808,585 822,595 838,615 850,640 872,650 900,655 940,670 975,690 1005,712 1015,728 990,730 955,740 920,745 890,752 865,745 852,720 845,690 830,670 825,645 818,620 812,600"/>
<polygon fill="#0a1aff" points="675,740 700,718 715,725 735,740 760,755 780,770 800,790 830,820 860,840 890,855 915,875 935,905 932,925 900,910 860,890 820,865 790,845 760,825 720,800 690,770"/>
<g fill="#ff4400">
<ellipse cx="830" cy="625" rx="10" ry="6"/><ellipse cx="840" cy="660" rx="14" ry="6"/><ellipse cx="855" cy="675" rx="10" ry="6"/>
<ellipse cx="935" cy="708" rx="12" ry="8"/><ellipse cx="962" cy="712" rx="14" ry="10"/><ellipse cx="1003" cy="735" rx="8" ry="6"/>
<ellipse cx="878" cy="790" rx="14" ry="6"/><circle cx="860" cy="797" r="5"/><ellipse cx="720" cy="597" rx="10" ry="8"/>
<ellipse cx="878" cy="880" rx="10" ry="10"/><ellipse cx="910" cy="905" rx="10" ry="8"/><circle cx="925" cy="925" r="5"/>
<circle cx="1190" cy="925" r="3"/><circle cx="1176" cy="993" r="3"/><circle cx="815" cy="800" r="4"/>
</g>
<g fill="#0a1aff">
<ellipse cx="700" cy="600" rx="18" ry="6"/><ellipse cx="810" cy="725" rx="20" ry="6"/><ellipse cx="800" cy="800" rx="8" ry="6"/>
<ellipse cx="1060" cy="795" rx="10" ry="14"/><ellipse cx="1068" cy="975" rx="12" ry="25"/><circle cx="1212" cy="892" r="5"/>
<circle cx="630" cy="687" r="5"/><circle cx="658" cy="620" r="3"/><circle cx="935" cy="775" r="3"/><circle cx="968" cy="960" r="3"/>
</g>
</g>
<use href="#grid"/><use href="#swath"/><use href="#coast"/><use href="#cross"/>
<rect x="1294" y="108" width="23" height="442" fill="#ff4400"/>
<rect x="1294" y="550" width="23" height="443" fill="#0000ff"/>
<rect x="1294" y="993" width="23" height="442" fill="#fff" stroke="#000" stroke-width="2.5"/>
<text class="t" x="95" y="175">2A23 rain types</text>
<text class="lo" x="188" y="744">68</text><text class="lo" x="394" y="744">70</text><text class="lo" x="600" y="744">72</text><text class="lo" x="806" y="744">74</text><text class="lo" x="1012" y="744">76</text><text class="lo" x="1218" y="744">78</text>
<text class="lo" x="651" y="134">18</text><text class="lo" x="651" y="357">16</text><text class="lo" x="651" y="579">14</text><text class="lo" x="651" y="800">12</text><text class="lo" x="651" y="1021">10</text><text class="lo" x="651" y="1242">8</text>
<text class="cbl" x="1327" y="127">Conv</text><text class="cbl" x="1327" y="572">Strat</text><text class="cbl" x="1327" y="1014">N/A</text>
<text class="pl" x="1149" y="1366">(h)</text>
</g>

<!-- ============ PANEL I ============ -->
<g transform="translate(1181,1180.5) scale(0.384615)">
<g transform="translate(-26,-24.7)">
<polygon fill="#90cc90" points="835,588 850,600 870,615 895,635 920,655 960,675 1000,700 1040,735 1000,735 970,745 940,750 910,760 885,752 870,735 860,715 850,690 848,660 840,635 836,610"/>
<polygon fill="#b0b0b0" points="850,620 880,630 895,660 880,700 890,740 870,735 855,700 848,660"/>
<polygon fill="#88b8ff" points="905,655 960,675 1000,700 1035,725 990,735 960,745 930,748 910,730 900,700"/>
<ellipse fill="#0000ee" cx="975" cy="712" rx="10" ry="8"/><circle fill="#ffdd00" cx="982" cy="708" r="4"/><circle fill="#0000ee" cx="890" cy="670" r="5"/>
<polygon fill="#90cc90" points="700,745 715,732 740,740 770,760 800,775 830,795 860,815 890,840 920,860 945,885 958,915 950,930 925,920 890,900 850,880 810,855 770,830 740,800 715,775"/>
<polygon fill="#b4b4b4" points="705,750 735,765 770,790 800,810 830,830 860,850 890,868 920,888 940,905 935,915 900,900 860,878 820,852 780,826 740,798 712,770"/>
<ellipse fill="#88b8ff" cx="815" cy="822" rx="14" ry="8"/><circle fill="#0000ee" cx="900" cy="882" r="6"/><circle fill="#ff8800" cx="935" cy="910" r="5"/><circle fill="#0000ee" cx="942" cy="900" r="4"/>
<ellipse fill="#90cc90" cx="740" cy="592" rx="14" ry="6"/><circle fill="#0020ff" cx="745" cy="592" r="5"/><ellipse fill="#b0b0b0" cx="718" cy="600" rx="10" ry="5"/>
<ellipse fill="#90cc90" cx="1085" cy="795" rx="10" ry="14"/><ellipse fill="#88b8ff" cx="1087" cy="792" rx="5" ry="6"/>
<ellipse fill="#90cc90" cx="1095" cy="975" rx="10" ry="25"/><ellipse fill="#88b8ff" cx="1096" cy="968" rx="6" ry="12"/>
<circle fill="#b0b0b0" cx="1240" cy="895" r="5"/><circle fill="#b0b0b0" cx="1202" cy="995" r="3"/>
<ellipse fill="#b8b8b8" cx="810" cy="720" rx="20" ry="8"/><ellipse fill="#c8c8c8" cx="910" cy="760" rx="25" ry="10"/><ellipse fill="#d0d0d0" cx="880" cy="790" rx="15" ry="8"/>
<circle fill="#b0b0b0" cx="960" cy="775" r="4"/><circle fill="#b0b0b0" cx="655" cy="688" r="4"/><circle fill="#ffdd00" cx="578" cy="452" r="3"/><circle fill="#b0b0b0" cx="545" cy="442" r="2"/><circle fill="#b0b0b0" cx="1215" cy="928" r="3"/><circle fill="#ff2000" cx="865" cy="832" r="3"/>
</g>
<use href="#grid"/><use href="#swath"/><use href="#coast"/><use href="#cross"/>
<rect x="1295" y="105" width="23" height="1305" fill="url(#gA)"/><use href="#ticks"/>
<text class="t" x="96" y="175">2A23 storm height (km)</text>
<text class="lo" x="188" y="744">68</text><text class="lo" x="394" y="744">70</text><text class="lo" x="600" y="744">72</text><text class="lo" x="806" y="744">74</text><text class="lo" x="1012" y="744">76</text><text class="lo" x="1218" y="744">78</text>
<text class="lo" x="651" y="134">18</text><text class="lo" x="651" y="357">16</text><text class="lo" x="651" y="579">14</text><text class="lo" x="651" y="800">12</text><text class="lo" x="651" y="1021">10</text><text class="lo" x="651" y="1242">8</text>
<text class="cb" x="1392" y="262">18.0</text><text class="cb" x="1392" y="395">16.0</text><text class="cb" x="1392" y="525">14.0</text><text class="cb" x="1392" y="658">12.0</text><text class="cb" x="1392" y="791">10.0</text><text class="cb" x="1392" y="925">8.0</text><text class="cb" x="1392" y="1057">6.0</text><text class="cb" x="1392" y="1189">4.0</text><text class="cb" x="1392" y="1322">2.0</text><text class="cb" x="1392" y="1454">0.0</text>
<text class="pl" x="1149" y="1366">(i)</text>
</g>
</svg>
</body></html>
